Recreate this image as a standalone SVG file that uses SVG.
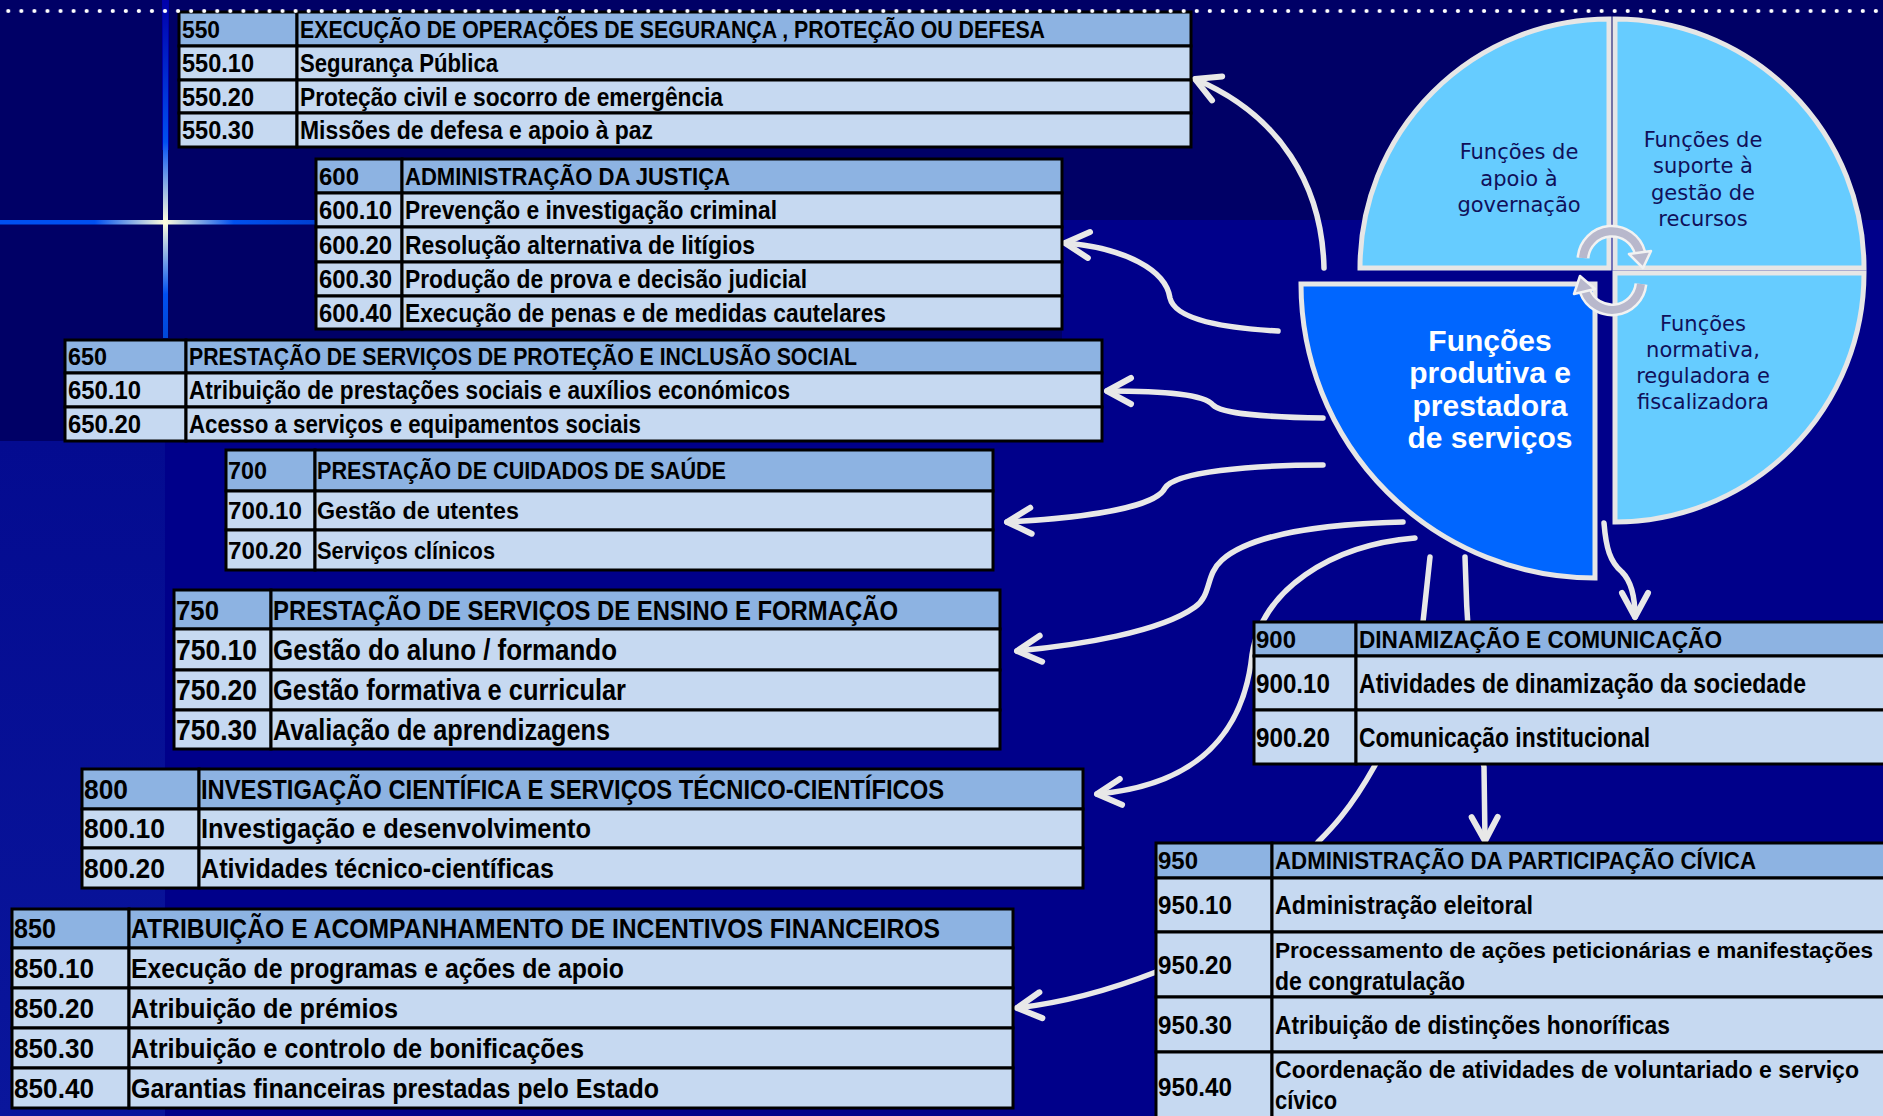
<svg xmlns="http://www.w3.org/2000/svg" width="1883" height="1116" viewBox="0 0 1883 1116">
<defs>
<style>
.h{fill:#8DB3E2;stroke:#000;stroke-width:3}
.r{fill:#C6D9F1;stroke:#000;stroke-width:3}
.t{font-family:"Liberation Sans",Arial,sans-serif;font-weight:bold;fill:#000}
.cn{fill:none;stroke:#E8E8E8;stroke-width:5.5;stroke-linecap:round;stroke-linejoin:round}
.q{fill:#66CCFF;stroke:#E6E6E6;stroke-width:5}
.pt{font-family:"DejaVu Sans",Verdana,sans-serif;font-size:21px;fill:#10105A;text-anchor:middle}
.bt{font-family:"Liberation Sans",Arial,sans-serif;font-weight:bold;font-size:30px;fill:#FFFFFF;text-anchor:middle}
.ca{fill:none;stroke:#F2F2F2;stroke-width:13}
.ci{fill:none;stroke:#B8B8CC;stroke-width:8}
.ch{fill:#B8B8CC;stroke:#F2F2F2;stroke-width:2.5;stroke-linejoin:round}
</style>
<marker id="ah" markerUnits="userSpaceOnUse" markerWidth="40" markerHeight="40" viewBox="-30 -20 40 40" refX="0" refY="0" orient="auto" overflow="visible">
<path d="M-24,-13 L0,0 L-24,13" fill="none" stroke="#E8E8E8" stroke-width="6" stroke-linecap="round" stroke-linejoin="round"/>
</marker>
<linearGradient id="vl" x1="0" y1="0" x2="0" y2="338" gradientUnits="userSpaceOnUse">
<stop offset="0" stop-color="#0000AA"/>
<stop offset="0.42" stop-color="#0050F0"/>
<stop offset="0.657" stop-color="#FFFFDD"/>
<stop offset="0.87" stop-color="#0050F0"/>
<stop offset="1" stop-color="#0048D8"/>
</linearGradient>
<linearGradient id="hl" x1="0" y1="0" x2="316" y2="0" gradientUnits="userSpaceOnUse">
<stop offset="0" stop-color="#0050F0"/>
<stop offset="0.3" stop-color="#0050F0"/>
<stop offset="0.522" stop-color="#FFFFDD"/>
<stop offset="0.74" stop-color="#0050F0"/>
<stop offset="1" stop-color="#0040D0"/>
</linearGradient>
<linearGradient id="ls" x1="0" y1="441" x2="0" y2="1116" gradientUnits="userSpaceOnUse">
<stop offset="0" stop-color="#040B90"/>
<stop offset="1" stop-color="#0A169C"/>
</linearGradient>
<pattern id="dots" x="1.8" y="8" width="13.06" height="6" patternUnits="userSpaceOnUse">
<circle cx="6.5" cy="3" r="2.1" fill="#FFFFFF"/>
</pattern>
</defs>

<g id="background">
<rect x="0" y="0" width="1883" height="1116" fill="#000066"/>
<path d="M1062,220 H1883 V1116 H165 V400 H1062 Z" fill="#00008A"/>
<rect x="0" y="441" width="165" height="675" fill="url(#ls)"/>
<rect x="162" y="0" width="7" height="150" fill="#0000A8"/>
<rect x="163" y="0" width="5" height="338" fill="url(#vl)"/>
<rect x="0" y="220" width="316" height="4.5" fill="url(#hl)"/>
</g>

<g id="connectors">
<path class="cn" marker-end="url(#ah)" d="M1324,268 C1322,185 1280,115 1195,79"/>
<path class="cn" marker-end="url(#ah)" d="M1278,331 C1225,328 1175,320 1170,298 C1166,270 1125,248 1065,243"/>
<path class="cn" marker-end="url(#ah)" d="M1323,418 C1265,417 1222,414 1213,405 C1204,394 1165,391 1107,391"/>
<path class="cn" marker-end="url(#ah)" d="M1323,465 C1250,465 1175,472 1165,488 C1157,505 1100,517 1007,522"/>
<path class="cn" marker-end="url(#ah)" d="M1403,522 C1320,524 1250,535 1222,560 C1205,575 1212,595 1195,607 C1160,632 1080,645 1017,651"/>
<path class="cn" marker-end="url(#ah)" d="M1415,538 C1330,545 1262,590 1252,655 C1244,730 1200,785 1097,794"/>
<path class="cn" marker-end="url(#ah)" d="M1430,557 L1423,622 C1415,690 1400,720 1374,767 C1350,810 1330,830 1318,842 C1280,900 1220,950 1156,972 C1110,990 1060,1003 1017,1008"/>
<path class="cn" marker-end="url(#ah)" d="M1465,557 C1466,600 1470,700 1484,767 L1485,841"/>
<path class="cn" marker-end="url(#ah)" d="M1604,523 C1606,548 1610,562 1622,572 C1632,582 1635,600 1635,617"/>
</g>

<g id="t550">
<rect class="h" x="179" y="12" width="118" height="34"/><rect class="h" x="297" y="12" width="894" height="34"/>
<rect class="r" x="179" y="46" width="118" height="34"/><rect class="r" x="297" y="46" width="894" height="34"/>
<rect class="r" x="179" y="80" width="118" height="33"/><rect class="r" x="297" y="80" width="894" height="33"/>
<rect class="r" x="179" y="113" width="118" height="34"/><rect class="r" x="297" y="113" width="894" height="34"/>
<text class="t" font-size="24" x="182" y="37.6" textLength="38" lengthAdjust="spacingAndGlyphs">550</text>
<text class="t" font-size="24" x="300" y="37.6" textLength="745" lengthAdjust="spacingAndGlyphs">EXECUÇÃO DE OPERAÇÕES DE SEGURANÇA , PROTEÇÃO OU DEFESA</text>
<text class="t" font-size="25" x="182" y="72" textLength="72" lengthAdjust="spacingAndGlyphs">550.10</text>
<text class="t" font-size="25" x="300" y="72" textLength="198" lengthAdjust="spacingAndGlyphs">Segurança Pública</text>
<text class="t" font-size="25" x="182" y="105.5" textLength="72" lengthAdjust="spacingAndGlyphs">550.20</text>
<text class="t" font-size="25" x="300" y="105.5" textLength="423" lengthAdjust="spacingAndGlyphs">Proteção civil e socorro de emergência</text>
<text class="t" font-size="25" x="182" y="139" textLength="72" lengthAdjust="spacingAndGlyphs">550.30</text>
<text class="t" font-size="25" x="300" y="139" textLength="353" lengthAdjust="spacingAndGlyphs">Missões de defesa e apoio à paz</text>
</g>

<g id="t600">
<rect class="h" x="316" y="159" width="86" height="34"/><rect class="h" x="402" y="159" width="660" height="34"/>
<rect class="r" x="316" y="193" width="86" height="34"/><rect class="r" x="402" y="193" width="660" height="34"/>
<rect class="r" x="316" y="227" width="86" height="35"/><rect class="r" x="402" y="227" width="660" height="35"/>
<rect class="r" x="316" y="262" width="86" height="34"/><rect class="r" x="402" y="262" width="660" height="34"/>
<rect class="r" x="316" y="296" width="86" height="33"/><rect class="r" x="402" y="296" width="660" height="33"/>
<text class="t" font-size="24" x="319" y="184.6" textLength="40" lengthAdjust="spacingAndGlyphs">600</text>
<text class="t" font-size="24" x="405" y="184.6" textLength="325" lengthAdjust="spacingAndGlyphs">ADMINISTRAÇÃO DA JUSTIÇA</text>
<text class="t" font-size="25" x="319" y="219" textLength="73" lengthAdjust="spacingAndGlyphs">600.10</text>
<text class="t" font-size="25" x="405" y="219" textLength="372" lengthAdjust="spacingAndGlyphs">Prevenção e investigação criminal</text>
<text class="t" font-size="25" x="319" y="253.5" textLength="73" lengthAdjust="spacingAndGlyphs">600.20</text>
<text class="t" font-size="25" x="405" y="253.5" textLength="350" lengthAdjust="spacingAndGlyphs">Resolução alternativa de litígios</text>
<text class="t" font-size="25" x="319" y="288" textLength="73" lengthAdjust="spacingAndGlyphs">600.30</text>
<text class="t" font-size="25" x="405" y="288" textLength="402" lengthAdjust="spacingAndGlyphs">Produção de prova e decisão judicial</text>
<text class="t" font-size="25" x="319" y="321.5" textLength="73" lengthAdjust="spacingAndGlyphs">600.40</text>
<text class="t" font-size="25" x="405" y="321.5" textLength="481" lengthAdjust="spacingAndGlyphs">Execução de penas e de medidas cautelares</text>
</g>

<g id="t650">
<rect class="h" x="65" y="340" width="121" height="33"/><rect class="h" x="186" y="340" width="916" height="33"/>
<rect class="r" x="65" y="373" width="121" height="34"/><rect class="r" x="186" y="373" width="916" height="34"/>
<rect class="r" x="65" y="407" width="121" height="34"/><rect class="r" x="186" y="407" width="916" height="34"/>
<text class="t" font-size="24" x="68" y="365" textLength="39" lengthAdjust="spacingAndGlyphs">650</text>
<text class="t" font-size="24" x="189" y="365" textLength="668" lengthAdjust="spacingAndGlyphs">PRESTAÇÃO DE SERVIÇOS DE PROTEÇÃO E INCLUSÃO SOCIAL</text>
<text class="t" font-size="25" x="68" y="399" textLength="73" lengthAdjust="spacingAndGlyphs">650.10</text>
<text class="t" font-size="25" x="189" y="399" textLength="601" lengthAdjust="spacingAndGlyphs">Atribuição de prestações sociais e auxílios económicos</text>
<text class="t" font-size="25" x="68" y="433" textLength="73" lengthAdjust="spacingAndGlyphs">650.20</text>
<text class="t" font-size="25" x="189" y="433" textLength="452" lengthAdjust="spacingAndGlyphs">Acesso a serviços e equipamentos sociais</text>
</g>

<g id="t700">
<rect class="h" x="226" y="450" width="89" height="41"/><rect class="h" x="315" y="450" width="678" height="41"/>
<rect class="r" x="226" y="491" width="89" height="39"/><rect class="r" x="315" y="491" width="678" height="39"/>
<rect class="r" x="226" y="530" width="89" height="40"/><rect class="r" x="315" y="530" width="678" height="40"/>
<text class="t" font-size="24" x="228" y="479" textLength="39" lengthAdjust="spacingAndGlyphs">700</text>
<text class="t" font-size="24" x="317" y="479" textLength="409" lengthAdjust="spacingAndGlyphs">PRESTAÇÃO DE CUIDADOS DE SAÚDE</text>
<text class="t" font-size="24" x="228" y="519" textLength="74" lengthAdjust="spacingAndGlyphs">700.10</text>
<text class="t" font-size="24" x="317" y="519" textLength="202" lengthAdjust="spacingAndGlyphs">Gestão de utentes</text>
<text class="t" font-size="24" x="228" y="558.6" textLength="74" lengthAdjust="spacingAndGlyphs">700.20</text>
<text class="t" font-size="24" x="317" y="558.6" textLength="178" lengthAdjust="spacingAndGlyphs">Serviços clínicos</text>
</g>

<g id="t750">
<rect class="h" x="174" y="590" width="97" height="39"/><rect class="h" x="271" y="590" width="729" height="39"/>
<rect class="r" x="174" y="629" width="97" height="41"/><rect class="r" x="271" y="629" width="729" height="41"/>
<rect class="r" x="174" y="670" width="97" height="40"/><rect class="r" x="271" y="670" width="729" height="40"/>
<rect class="r" x="174" y="710" width="97" height="39"/><rect class="r" x="271" y="710" width="729" height="39"/>
<text class="t" font-size="28" x="176" y="619.6" textLength="43" lengthAdjust="spacingAndGlyphs">750</text>
<text class="t" font-size="28" x="273" y="619.6" textLength="625" lengthAdjust="spacingAndGlyphs">PRESTAÇÃO DE SERVIÇOS DE ENSINO E FORMAÇÃO</text>
<text class="t" font-size="29" x="176" y="660" textLength="81" lengthAdjust="spacingAndGlyphs">750.10</text>
<text class="t" font-size="29" x="273" y="660" textLength="344" lengthAdjust="spacingAndGlyphs">Gestão do aluno / formando</text>
<text class="t" font-size="29" x="176" y="700.4" textLength="81" lengthAdjust="spacingAndGlyphs">750.20</text>
<text class="t" font-size="29" x="273" y="700.4" textLength="353" lengthAdjust="spacingAndGlyphs">Gestão formativa e curricular</text>
<text class="t" font-size="29" x="176" y="740" textLength="81" lengthAdjust="spacingAndGlyphs">750.30</text>
<text class="t" font-size="29" x="273" y="740" textLength="337" lengthAdjust="spacingAndGlyphs">Avaliação de aprendizagens</text>
</g>

<g id="t800">
<rect class="h" x="82" y="769" width="117" height="40"/><rect class="h" x="199" y="769" width="884" height="40"/>
<rect class="r" x="82" y="809" width="117" height="39"/><rect class="r" x="199" y="809" width="884" height="39"/>
<rect class="r" x="82" y="848" width="117" height="40"/><rect class="r" x="199" y="848" width="884" height="40"/>
<text class="t" font-size="27" x="84" y="798.7" textLength="44" lengthAdjust="spacingAndGlyphs">800</text>
<text class="t" font-size="27" x="201" y="798.7" textLength="743" lengthAdjust="spacingAndGlyphs">INVESTIGAÇÃO CIENTÍFICA E SERVIÇOS TÉCNICO-CIENTÍFICOS</text>
<text class="t" font-size="27" x="84" y="838.2" textLength="81" lengthAdjust="spacingAndGlyphs">800.10</text>
<text class="t" font-size="27" x="201" y="838.2" textLength="390" lengthAdjust="spacingAndGlyphs">Investigação e desenvolvimento</text>
<text class="t" font-size="27" x="84" y="877.7" textLength="81" lengthAdjust="spacingAndGlyphs">800.20</text>
<text class="t" font-size="27" x="201" y="877.7" textLength="353" lengthAdjust="spacingAndGlyphs">Atividades técnico-científicas</text>
</g>

<g id="t850">
<rect class="h" x="12" y="909" width="117" height="39"/><rect class="h" x="129" y="909" width="884" height="39"/>
<rect class="r" x="12" y="948" width="117" height="40"/><rect class="r" x="129" y="948" width="884" height="40"/>
<rect class="r" x="12" y="988" width="117" height="40"/><rect class="r" x="129" y="988" width="884" height="40"/>
<rect class="r" x="12" y="1028" width="117" height="40"/><rect class="r" x="129" y="1028" width="884" height="40"/>
<rect class="r" x="12" y="1068" width="117" height="40"/><rect class="r" x="129" y="1068" width="884" height="40"/>
<text class="t" font-size="27" x="14" y="938.2" textLength="42" lengthAdjust="spacingAndGlyphs">850</text>
<text class="t" font-size="27" x="131" y="938.2" textLength="809" lengthAdjust="spacingAndGlyphs">ATRIBUIÇÃO E ACOMPANHAMENTO DE INCENTIVOS FINANCEIROS</text>
<text class="t" font-size="27" x="14" y="977.7" textLength="80" lengthAdjust="spacingAndGlyphs">850.10</text>
<text class="t" font-size="27" x="131" y="977.7" textLength="493" lengthAdjust="spacingAndGlyphs">Execução de programas e ações de apoio</text>
<text class="t" font-size="27" x="14" y="1017.7" textLength="80" lengthAdjust="spacingAndGlyphs">850.20</text>
<text class="t" font-size="27" x="131" y="1017.7" textLength="267" lengthAdjust="spacingAndGlyphs">Atribuição de prémios</text>
<text class="t" font-size="27" x="14" y="1057.7" textLength="80" lengthAdjust="spacingAndGlyphs">850.30</text>
<text class="t" font-size="27" x="131" y="1057.7" textLength="453" lengthAdjust="spacingAndGlyphs">Atribuição e controlo de bonificações</text>
<text class="t" font-size="27" x="14" y="1097.7" textLength="80" lengthAdjust="spacingAndGlyphs">850.40</text>
<text class="t" font-size="27" x="131" y="1097.7" textLength="528" lengthAdjust="spacingAndGlyphs">Garantias financeiras prestadas pelo Estado</text>
</g>

<g id="t900">
<rect class="h" x="1254" y="622" width="102" height="34"/><rect class="h" x="1356" y="622" width="540" height="34"/>
<rect class="r" x="1254" y="656" width="102" height="54"/><rect class="r" x="1356" y="656" width="540" height="54"/>
<rect class="r" x="1254" y="710" width="102" height="54"/><rect class="r" x="1356" y="710" width="540" height="54"/>
<text class="t" font-size="24" x="1256" y="647.6" textLength="40" lengthAdjust="spacingAndGlyphs">900</text>
<text class="t" font-size="24" x="1359" y="647.6" textLength="363" lengthAdjust="spacingAndGlyphs">DINAMIZAÇÃO E COMUNICAÇÃO</text>
<text class="t" font-size="27" x="1256" y="692.7" textLength="74" lengthAdjust="spacingAndGlyphs">900.10</text>
<text class="t" font-size="27" x="1359" y="692.7" textLength="447" lengthAdjust="spacingAndGlyphs">Atividades de dinamização da sociedade</text>
<text class="t" font-size="27" x="1256" y="746.7" textLength="74" lengthAdjust="spacingAndGlyphs">900.20</text>
<text class="t" font-size="27" x="1359" y="746.7" textLength="291" lengthAdjust="spacingAndGlyphs">Comunicação institucional</text>
</g>

<g id="t950">
<rect class="h" x="1156" y="843" width="116" height="35"/><rect class="h" x="1272" y="843" width="624" height="35"/>
<rect class="r" x="1156" y="878" width="116" height="54"/><rect class="r" x="1272" y="878" width="624" height="54"/>
<rect class="r" x="1156" y="932" width="116" height="65"/><rect class="r" x="1272" y="932" width="624" height="65"/>
<rect class="r" x="1156" y="997" width="116" height="55"/><rect class="r" x="1272" y="997" width="624" height="55"/>
<rect class="r" x="1156" y="1052" width="116" height="75"/><rect class="r" x="1272" y="1052" width="624" height="75"/>
<text class="t" font-size="24" x="1158" y="869" textLength="40" lengthAdjust="spacingAndGlyphs">950</text>
<text class="t" font-size="24" x="1275" y="869" textLength="481" lengthAdjust="spacingAndGlyphs">ADMINISTRAÇÃO DA PARTICIPAÇÃO CÍVICA</text>
<text class="t" font-size="26" x="1158" y="914.4" textLength="74" lengthAdjust="spacingAndGlyphs">950.10</text>
<text class="t" font-size="26" x="1275" y="914.4" textLength="258" lengthAdjust="spacingAndGlyphs">Administração eleitoral</text>
<text class="t" font-size="26" x="1158" y="973.9" textLength="74" lengthAdjust="spacingAndGlyphs">950.20</text>
<text class="t" font-size="22.5" x="1275" y="958" textLength="598" lengthAdjust="spacingAndGlyphs">Processamento de ações peticionárias e manifestações</text>
<text class="t" font-size="26" x="1275" y="990" textLength="190" lengthAdjust="spacingAndGlyphs">de congratulação</text>
<text class="t" font-size="26" x="1158" y="1033.9" textLength="74" lengthAdjust="spacingAndGlyphs">950.30</text>
<text class="t" font-size="26" x="1275" y="1033.9" textLength="395" lengthAdjust="spacingAndGlyphs">Atribuição de distinções honoríficas</text>
<text class="t" font-size="26" x="1158" y="1096" textLength="74" lengthAdjust="spacingAndGlyphs">950.40</text>
<text class="t" font-size="23.5" x="1275" y="1078" textLength="584" lengthAdjust="spacingAndGlyphs">Coordenação de atividades de voluntariado e serviço</text>
<text class="t" font-size="26" x="1275" y="1109" textLength="62" lengthAdjust="spacingAndGlyphs">cívico</text>
</g>

<g id="pie-governacao">
<path class="q" d="M1609,268 H1360 A249,249 0 0 1 1609,19 Z"/>
<text class="pt" x="1519" y="159">Funções de</text>
<text class="pt" x="1519" y="186">apoio à</text>
<text class="pt" x="1519" y="212">governação</text>
</g>
<g id="pie-suporte">
<path class="q" d="M1615,268 V19 A249,249 0 0 1 1864,268 Z"/>
<text class="pt" x="1703" y="147">Funções de</text>
<text class="pt" x="1703" y="173">suporte à</text>
<text class="pt" x="1703" y="200">gestão de</text>
<text class="pt" x="1703" y="226">recursos</text>
</g>
<g id="pie-normativa">
<path class="q" d="M1615,273 H1864 A249,249 0 0 1 1615,522 Z"/>
<text class="pt" x="1703" y="331">Funções</text>
<text class="pt" x="1703" y="357">normativa,</text>
<text class="pt" x="1703" y="383">reguladora e</text>
<text class="pt" x="1703" y="409">fiscalizadora</text>
</g>
<g id="pie-produtiva">
<path d="M1595,284 V578 A294,294 0 0 1 1301,284 Z" fill="#0066FF" stroke="#E6E6E6" stroke-width="5"/>
<text class="bt" x="1490" y="351">Funções</text>
<text class="bt" x="1490" y="383">produtiva e</text>
<text class="bt" x="1490" y="416">prestadora</text>
<text class="bt" x="1490" y="448">de serviços</text>
</g>

<g id="cycle-arrows">
<path class="ca" d="M1583,258 A29,29 0 0 1 1640,253"/>
<path class="ci" d="M1583,258 A29,29 0 0 1 1640,253"/>
<polygon class="ch" points="1629,254 1651,251 1643,268"/>
<path class="ca" d="M1641,284 A29,29 0 0 1 1585,291"/>
<path class="ci" d="M1641,284 A29,29 0 0 1 1585,291"/>
<polygon class="ch" points="1595,289 1574,294 1580,276"/>
</g>

<rect id="dotted-rule" x="0" y="8" width="1883" height="6" fill="url(#dots)"/>
</svg>
